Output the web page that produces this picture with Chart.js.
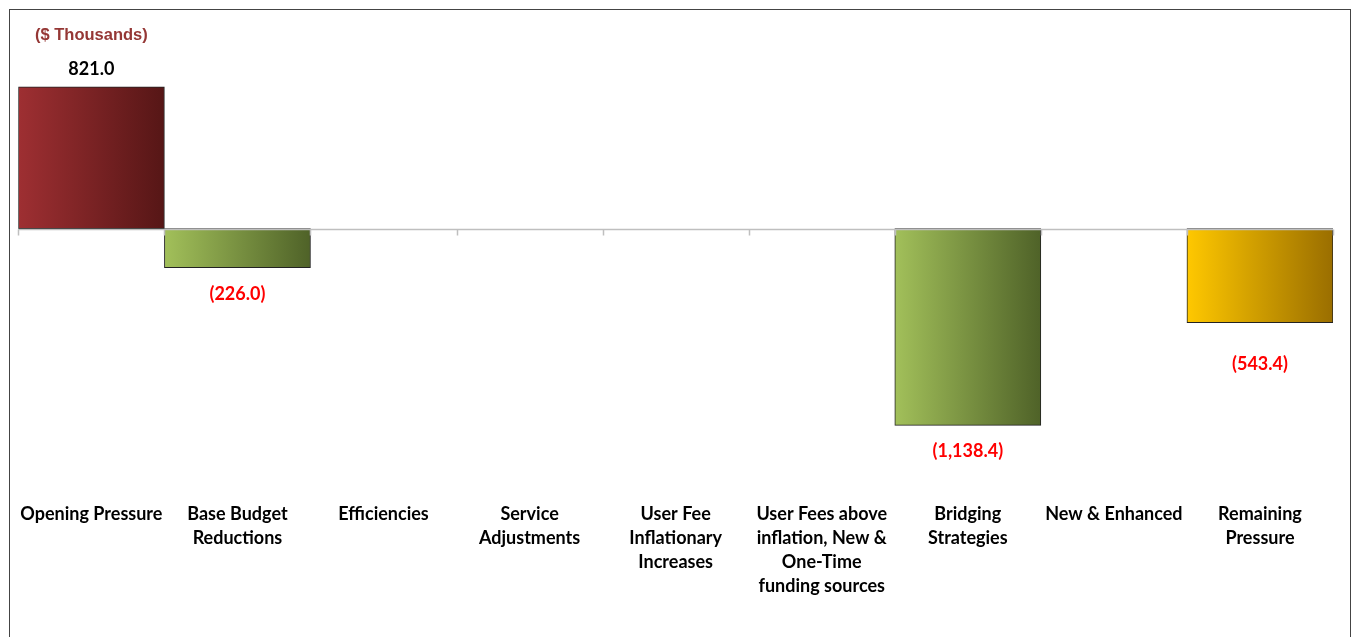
<!DOCTYPE html>
<html>
<head>
<meta charset="utf-8">
<script src="https://cdn.jsdelivr.net/npm/chart.js@4.4.1/dist/chart.umd.min.js"></script>
<style>
  html, body { margin: 0; padding: 0; background: #fff; overflow: hidden; }
  #frame {
    position: absolute; left: 9px; top: 9px;
    width: 1342px; height: 640px;
    border: 1px solid #444; box-sizing: border-box;
  }
  #wrap { position: absolute; left: 0; top: 0; width: 1340px; height: 628px; }
</style>
</head>
<body>
<div id="frame"><div id="wrap"><canvas id="chart"></canvas></div></div>
<script>
// categories along the bottom
const categories = [
  "Opening Pressure",
  ["Base Budget", "Reductions"],
  "Efficiencies",
  ["Service", "Adjustments"],
  ["User Fee", "Inflationary", "Increases"],
  ["User Fees above", "inflation, New &", "One-Time", "funding sources"],
  ["Bridging", "Strategies"],
  "New & Enhanced",
  ["Remaining", "Pressure"]
];

// $ thousands
const values = [821.0, -226.0, 0, 0, 0, 0, -1138.4, 0, -543.4];

// left/right gradient stops for each bar
const barColorsLight = ["#9e2f32", "#a2c05a", "#a2c05a", "#a2c05a", "#a2c05a", "#a2c05a", "#a2c05a", "#a2c05a", "#ffc800"];
const barColorsDark  = ["#561616", "#4f6228", "#4f6228", "#4f6228", "#4f6228", "#4f6228", "#4f6228", "#4f6228", "#9a6e00"];

const unitsLabel = "($ Thousands)";

function fmt(v) {
  const s = Math.abs(v).toLocaleString("en-US", { minimumFractionDigits: 1, maximumFractionDigits: 1 });
  return v < 0 ? "(" + s + ")" : s;
}

function barGradient(context) {
  const chart = context.chart;
  const i = context.dataIndex;
  if (!values[i]) return "rgba(0,0,0,0)";
  if (!chart.chartArea) return barColorsLight[i];
  const xs = chart.scales.x;
  const half = (xs.getPixelForValue(1) - xs.getPixelForValue(0)) / 2;
  const cx = xs.getPixelForValue(i);
  const g = chart.ctx.createLinearGradient(cx - half, 0, cx + half, 0);
  g.addColorStop(0, barColorsLight[i]);
  g.addColorStop(1, barColorsDark[i]);
  return g;
}

// zero line with small ticks between categories, value labels, units label
const decorations = {
  id: "decorations",
  afterDatasetsDraw(chart) {
    const { ctx, chartArea } = chart;
    const xs = chart.scales.x, ys = chart.scales.y;
    const y0 = Math.round(ys.getPixelForValue(0)) + 0.5;
    const half = (xs.getPixelForValue(1) - xs.getPixelForValue(0)) / 2;

    ctx.save();
    ctx.strokeStyle = "#bfbfbf";
    ctx.lineWidth = 1.5;
    ctx.beginPath();
    ctx.moveTo(chartArea.left, y0);
    ctx.lineTo(chartArea.right, y0);
    for (let i = 0; i <= categories.length; i++) {
      const x = Math.round(xs.getPixelForValue(0) - half + i * half * 2) + 0.5;
      ctx.moveTo(x, y0);
      ctx.lineTo(x, y0 + 6);
    }
    ctx.stroke();

    ctx.font = "bold 18px Lato, 'Open Sans', sans-serif";
    ctx.textAlign = "center";
    ctx.textBaseline = "middle";
    values.forEach((v, i) => {
      if (!v) return;
      const x = xs.getPixelForValue(i);
      const y = ys.getPixelForValue(v);
      if (v > 0) {
        ctx.fillStyle = "#000";
        ctx.fillText(fmt(v), x, y - 18);
      } else {
        ctx.fillStyle = "#ff0000";
        ctx.fillText(fmt(v), x, y + (i === values.length - 1 ? 42 : 26));
      }
    });

    ctx.font = "bold 16.5px 'Liberation Sans Narrow', 'Arial Narrow', sans-serif";
    ctx.fillStyle = "#953735";
    ctx.textAlign = "left";
    ctx.fillText(unitsLabel, 25, 25);
    ctx.restore();
  }
};

new Chart(document.getElementById("chart"), {
  type: "bar",
  data: {
    labels: categories,
    datasets: [{
      data: values,
      backgroundColor: barGradient,
      borderColor: "#222",
      borderWidth: (c) => (values[c.dataIndex] ? 1 : 0),
      borderSkipped: false,
      barPercentage: 1,
      categoryPercentage: 1
    }]
  },
  options: {
    responsive: true,
    maintainAspectRatio: false,
    animation: false,
    layout: { padding: { left: 6, right: 17, top: 0, bottom: 30 } },
    plugins: { legend: { display: false }, tooltip: { enabled: false } },
    scales: {
      y: {
        display: false,
        min: -1525,
        max: 1265
      },
      x: {
        grid: { display: false, drawTicks: false },
        border: { display: false },
        ticks: {
          color: "#000",
          font: { family: "Lato, 'Open Sans', sans-serif", size: 18, weight: "bold", lineHeight: 1.33 },
          padding: 10,
          maxRotation: 0,
          autoSkip: false
        }
      }
    }
  },
  plugins: [decorations]
});
</script>
</body>
</html>
